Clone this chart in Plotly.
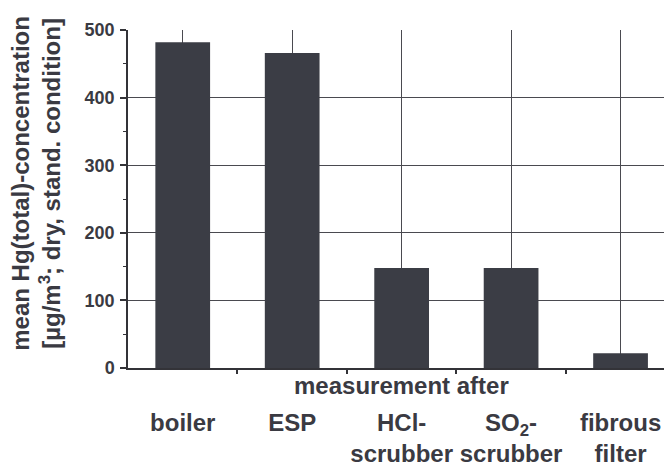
import plotly.graph_objects as go

categories = ["boiler", "ESP", "HCl-<br>scrubber", "SO<sub>2</sub>-<br>scrubber", "fibrous<br>filter"]
hg_values = [482, 466, 148, 148, 22]
y_tick_values = [0, 100, 200, 300, 400, 500]
x_title = "measurement after"
y_title = "mean Hg(total)-concentration<br>[µg/m<sup>3</sup>; dry, stand. condition]"

FONT = "Liberation Sans"
TEXT_COLOR = "#3a3a42"
BAR_COLOR = "#3b3d45"
GRID_COLOR = "#4a4a50"

fig = go.Figure()
fig.add_trace(go.Bar(
    x=categories, y=hg_values,
    marker=dict(color=BAR_COLOR, line=dict(width=0)),
    hoverinfo="skip",
))
# invisible trace so the overlaying tick axis is drawn
fig.add_trace(go.Scatter(x=[0.5], y=[0], xaxis="x2", mode="markers",
                         marker=dict(opacity=0), hoverinfo="skip", showlegend=False))

xr = [-0.5, 4.47]
# page body has an 8px default margin, so the figure is sized/offset to compensate
fig.update_layout(
    width=664, height=461,
    margin=dict(l=120, r=0, t=22, b=101, autoexpand=False),
    paper_bgcolor="white", plot_bgcolor="white",
    showlegend=False, bargap=0.5,
    font=dict(family=FONT, color=TEXT_COLOR),
    xaxis=dict(
        type="category", range=xr, automargin=False,
        showgrid=True, gridcolor=GRID_COLOR, gridwidth=1.2,
        ticks="", showline=True, linecolor="#333338", linewidth=1.5,
        tickfont=dict(family=FONT, size=24, color=TEXT_COLOR, weight="bold"),
        ticklabelstandoff=32,
        zeroline=False,
    ),
    xaxis2=dict(
        overlaying="x", anchor="y", side="bottom", range=xr, automargin=False,
        tickmode="array", tickvals=[0.5, 1.5, 2.5, 3.5],
        ticks="outside", ticklen=5, tickwidth=1.5, tickcolor="#333338",
        showticklabels=False, showgrid=False, zeroline=False, showline=False,
    ),
    yaxis=dict(
        range=[0, 500], tickmode="array", tickvals=y_tick_values, automargin=False,
        showgrid=True, gridcolor=GRID_COLOR, gridwidth=1.2,
        showline=True, linecolor="#333338", linewidth=1.5,
        ticks="outside", ticklen=6, tickwidth=1.5, tickcolor="#333338",
        tickfont=dict(family=FONT, size=18, color=TEXT_COLOR, weight="bold"),
        ticklabelstandoff=2,
        minor=dict(dtick=50, ticks="outside", ticklen=3, tickwidth=1.2,
                   tickcolor="#333338", showgrid=False),
        zeroline=False,
    ),
    annotations=[
        dict(text=x_title, xref="paper", yref="paper", x=0.502, y=0,
             xanchor="center", yanchor="top", yshift=-2, showarrow=False,
             font=dict(family=FONT, size=24, color=TEXT_COLOR, weight="bold")),
        dict(text=y_title, xref="paper", yref="paper", x=0, y=0.545,
             xanchor="center", yanchor="middle", xshift=-92, textangle=-90,
             showarrow=False,
             font=dict(family=FONT, size=24, color=TEXT_COLOR, weight="bold")),
    ],
)

fig.write_html("out.html")
